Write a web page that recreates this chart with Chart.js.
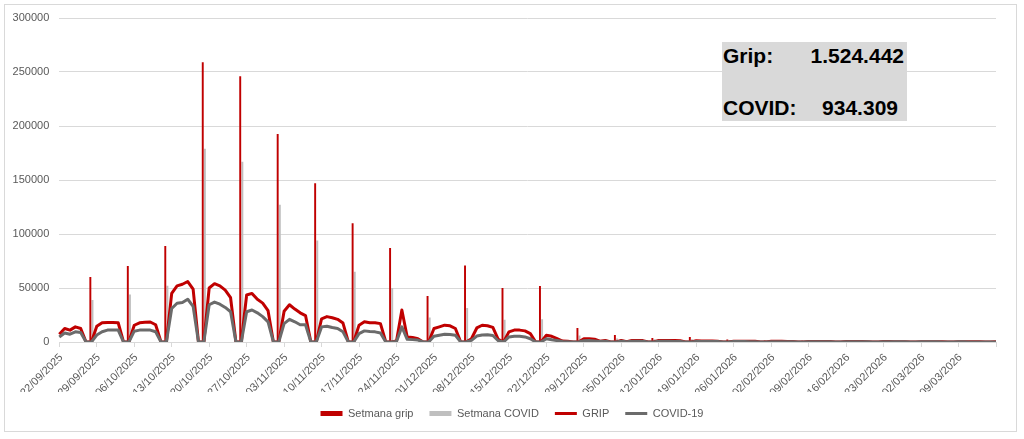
<!DOCTYPE html>
<html>
<head>
<meta charset="utf-8">
<script src="https://cdn.jsdelivr.net/npm/chart.js@4.4.1/dist/chart.umd.min.js"></script>
<style>
html, body { margin: 0; padding: 0; background: #fff; }
#wrap { position: relative; width: 1024px; height: 439px; }
#frame { position: absolute; left: 4px; top: 4px; width: 1011px; height: 426px; border: 1px solid #d9d9d9; }
canvas { position: absolute; left: 0; top: 0; }
#totals { position: absolute; left: 722px; top: 42px; width: 185px; height: 79px; background: #d9d9d9;
  font-family: "Liberation Sans", Arial, sans-serif; font-weight: bold; font-size: 21px; line-height: 21px; color: #000; }
#totals span { position: absolute; white-space: nowrap; }
</style>
</head>
<body>
<div id="wrap">
  <div id="frame"></div>
  <canvas id="grafic" width="1024" height="439"></canvas>
  <div id="totals">
    <span style="left:1px; top:3px;">Grip:</span>
    <span style="right:3px; top:3px;">1.524.442</span>
    <span style="left:1px; top:55px;">COVID:</span>
    <span style="right:9px; top:55px;">934.309</span>
  </div>
</div>
<script>
// dies: 22/09/2025 .. 16/03/2026 (dl-dv amb valors, ds-dg a zero)
var inici = new Date(Date.UTC(2025, 8, 22));
var numDies = 176;

var gripDiari = [
  7200, 12500, 11000, 14000, 12500, 0, 0,
  14500, 17800, 18000, 18000, 17800, 0, 0,
  15500, 17800, 18200, 18500, 16000, 0, 0,
  45000, 52000, 53500, 56000, 49000, 0, 0,
  50000, 54000, 52000, 48000, 41000, 0, 0,
  43500, 45000, 39500, 36000, 29000, 0, 0,
  28500, 34500, 30500, 27000, 24500, 0, 0,
  21500, 23500, 22500, 21000, 17500, 0, 0,
  15600, 18700, 17800, 17800, 17000, 0, 0,
  1000, 29600, 4700, 4200, 3000, 0, 0,
  12500, 14000, 15600, 15000, 12500, 0, 0,
  3000, 13000, 15500, 15000, 13500, 2500, 0,
  9400, 11000, 11000, 10300, 7800, 0, 0,
  6200, 5300, 3100, 900, 600, 0, 0,
  3000, 3100, 2600, 700, 1500, 0, 0,
  1500, 300, 1500, 1400, 1300, 0, 0,
  1400, 1400, 1300, 1300, 1100, 0, 0,
  1100, 1000, 1000, 900, 800, 0, 0,
  800, 800, 700, 700, 600, 0, 0,
  600, 600, 600, 500, 500, 0, 0,
  500, 500, 500, 400, 400, 0, 0,
  500, 400, 400, 400, 300, 0, 0,
  400, 400, 300, 300, 300, 0, 0,
  300, 300, 300, 300, 200, 0, 0,
  300, 300, 200, 200, 200, 0, 0,
  200
];

var covidDiari = [
  4700, 8400, 7200, 9400, 8700, 0, 0,
  6500, 9500, 11000, 11200, 11000, 0, 0,
  10000, 11000, 11000, 11000, 9500, 0, 0,
  31000, 35900, 36500, 39600, 33000, 0, 0,
  34500, 37000, 35000, 32000, 28000, 0, 0,
  28000, 29600, 27000, 23500, 18700, 0, 0,
  17000, 21000, 18700, 16000, 16000, 0, 0,
  14000, 14600, 13400, 12500, 9400, 0, 0,
  7800, 10300, 9700, 9400, 8400, 0, 0,
  500, 14000, 2500, 2200, 1800, 0, 0,
  5300, 6200, 7200, 6900, 6200, 0, 0,
  1500, 5500, 6500, 6800, 6000, 1200, 0,
  4700, 5300, 5300, 4700, 3000, 0, 0,
  3000, 2000, 1300, 500, 300, 0, 0,
  1200, 1300, 1000, 400, 700, 0, 0,
  700, 200, 700, 600, 600, 0, 0,
  600, 600, 600, 500, 500, 0, 0,
  500, 500, 400, 400, 400, 0, 0,
  400, 400, 400, 300, 300, 0, 0,
  300, 300, 300, 300, 200, 0, 0,
  300, 300, 300, 200, 200, 0, 0,
  300, 300, 200, 200, 200, 0, 0,
  200, 200, 200, 200, 200, 0, 0,
  200, 200, 200, 200, 100, 0, 0,
  200, 200, 100, 100, 100, 0, 0,
  100
];

// totals setmanals, posats al diumenge (28/09 .. 15/03)
var setmanaGrip = [60200, 70400, 88900, 259000, 246000, 192600, 147000, 110000, 87000, 42600,
  70800, 50000, 51800, 13000, 6500, 3700, 4700, 2200, 1500, 1200, 1000, 900, 800, 700, 600];
var setmanaCovid = [39000, 44000, 52000, 179000, 167000, 127000, 94000, 65000, 50000, 22800,
  31400, 20600, 21000, 6000, 3200, 2500, 2500, 1500, 1200, 1000, 900, 800, 700, 600, 500];

var etiquetesY = [0, 50000, 100000, 150000, 200000, 250000, 300000];

function dd(n) { return (n < 10 ? '0' : '') + n; }
var dies = [];
for (var i = 0; i < numDies; i++) {
  var d = new Date(inici.getTime() + i * 86400000);
  dies.push(dd(d.getUTCDate()) + '/' + dd(d.getUTCMonth() + 1) + '/' + d.getUTCFullYear());
}

var barresGrip = dies.map(function () { return null; });
var barresCovid = dies.map(function () { return null; });
setmanaGrip.forEach(function (v, k) { barresGrip[6 + k * 7] = v; });
setmanaCovid.forEach(function (v, k) { barresCovid[6 + k * 7] = v; });

Chart.defaults.font.family = '"Liberation Sans", Arial, sans-serif';
Chart.defaults.font.size = 11;
Chart.defaults.color = '#595959';

var ctx = document.getElementById('grafic').getContext('2d');
var grafic = new Chart(ctx, {
  type: 'bar',
  data: {
    labels: dies,
    datasets: [
      { type: 'bar', label: 'Setmana grip', data: barresGrip, backgroundColor: '#c00000',
        borderWidth: 0, pointStyle: 'rect', order: 3 },
      { type: 'bar', label: 'Setmana COVID', data: barresCovid, backgroundColor: '#bfbfbf',
        borderWidth: 0, pointStyle: 'rect', order: 3 },
      { type: 'line', label: 'GRIP', data: gripDiari, borderColor: '#c00000', backgroundColor: '#c00000',
        borderWidth: 3, pointRadius: 0, pointStyle: 'line', borderJoinStyle: 'round', tension: 0, order: 2 },
      { type: 'line', label: 'COVID-19', data: covidDiari, borderColor: '#6b6b6b', backgroundColor: '#6b6b6b',
        borderWidth: 3, pointRadius: 0, pointStyle: 'line', borderJoinStyle: 'round', tension: 0, order: 1 }
    ]
  },
  options: {
    responsive: false,
    animation: false,
    devicePixelRatio: 1,
    layout: { padding: { left: 0, right: 0, top: 18, bottom: 10 } },
    scales: {
      x: {
        offset: false,
        grid: { display: true, offset: false, drawOnChartArea: false, drawTicks: true, tickLength: 5, color: '#d9d9d9' },
        border: { display: true, color: '#d9d9d9' },
        ticks: {
          autoSkip: false, maxRotation: 45, minRotation: 45, padding: 4, labelOffset: 2,
          color: '#595959', font: { size: 11 },
          callback: function (v) { return v === numDies - 1 ? '' : this.getLabelForValue(v); }
        },
        afterBuildTicks: function (s) { s.ticks = s.ticks.filter(function (t) { return t.value % 7 === 0; }); },
        afterFit: function (s) { s.height = 50; }
      },
      y: {
        min: 0, max: 300000,
        afterBuildTicks: function (s) { s.ticks = etiquetesY.map(function (v) { return { value: v }; }); },
        grid: { color: '#d9d9d9', drawTicks: false },
        border: { display: false },
        ticks: { padding: 10, color: '#595959', font: { size: 11 }, callback: function (v) { return String(v); } },
        afterFit: function (s) { s.width = 59.3; }
      },
      marge: {
        position: 'right', display: true, min: 0, max: 1,
        grid: { display: false }, border: { display: false }, ticks: { display: false },
        afterFit: function (s) { s.width = 28; }
      }
    },
    plugins: {
      tooltip: { enabled: false },
      legend: {
        position: 'bottom',
        labels: {
          usePointStyle: true, pointStyleWidth: 22, boxHeight: 5, padding: 16,
          color: '#595959', font: { size: 11 },
          sort: function (a, b) { return a.datasetIndex - b.datasetIndex; }
        }
      }
    }
  }
});
</script>
</body>
</html>
